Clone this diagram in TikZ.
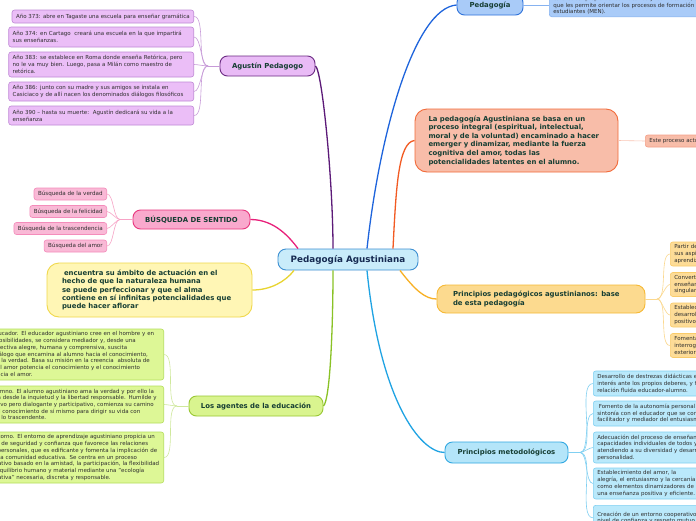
\documentclass[tikz,border=0pt]{standalone}
\usepackage{fontspec}
\setmainfont{DejaVu Sans}
\definecolor{maintxt}{HTML}{163E33}
\definecolor{subtxt}{HTML}{2E2E2E}
\definecolor{centxt}{HTML}{172B52}
\definecolor{cenfill}{HTML}{C9ECFA}
\definecolor{cendraw}{HTML}{3E90D2}
\definecolor{agfill}{HTML}{E9BBF6}
\definecolor{agdraw}{HTML}{6A2A82}
\definecolor{agline}{HTML}{5C1A78}
\definecolor{agsubfill}{HTML}{EBBEF7}
\definecolor{agsubdraw}{HTML}{C08AD6}
\definecolor{agsubline}{HTML}{C79AD8}
\definecolor{pgfill}{HTML}{A9CBF8}
\definecolor{pgdraw}{HTML}{2E72DA}
\definecolor{pgline}{HTML}{1E64DC}
\definecolor{pgsubdraw}{HTML}{86B2F0}
\definecolor{lpfill}{HTML}{F8BDA9}
\definecolor{lpdraw}{HTML}{F26B3A}
\definecolor{lpline}{HTML}{F25A22}
\definecolor{lpsubdraw}{HTML}{F4A088}
\definecolor{lpsubline}{HTML}{F9C5B4}
\definecolor{bsfill}{HTML}{F9A9CD}
\definecolor{bsdraw}{HTML}{E8357D}
\definecolor{bsline}{HTML}{E8207A}
\definecolor{bssubfill}{HTML}{F9B9D6}
\definecolor{bssubdraw}{HTML}{F48CBB}
\definecolor{bssubline}{HTML}{F7A3C6}
\definecolor{yefill}{HTML}{FFF6B5}
\definecolor{yedraw}{HTML}{F0D84C}
\definecolor{yeline}{HTML}{E8D430}
\definecolor{ppfill}{HTML}{FCDA8F}
\definecolor{ppdraw}{HTML}{F6B935}
\definecolor{ppline}{HTML}{F8B024}
\definecolor{ppsubfill}{HTML}{FDDC97}
\definecolor{ppsubdraw}{HTML}{F9CB6A}
\definecolor{ppsubline}{HTML}{FBD88E}
\definecolor{agefill}{HTML}{D9F48F}
\definecolor{agedraw}{HTML}{98C732}
\definecolor{ageline}{HTML}{8AC226}
\definecolor{agesubfill}{HTML}{DDF796}
\definecolor{agesubdraw}{HTML}{B5DE5D}
\definecolor{agesubline}{HTML}{CFE89C}
\definecolor{pmfill}{HTML}{B4E5F9}
\definecolor{pmdraw}{HTML}{2FA7E1}
\definecolor{pmline}{HTML}{1FA3E3}
\definecolor{pmsubfill}{HTML}{BAE9FB}
\definecolor{pmsubdraw}{HTML}{80D0F2}
\tikzset{
  mainbox/.style={draw, line width=0.9pt, rounded corners=7.5pt, font=\fontsize{6.9}{8.6}\selectfont\bfseries, text=maintxt, inner sep=0pt, align=center},
  mainpara/.style={mainbox, align=left, inner ysep=3pt},
  subbox/.style={draw, line width=0.6pt, rounded corners=2.5pt, font=\fontsize{5.5}{6.7}\selectfont, text=subtxt, inner xsep=4pt, inner ysep=2pt, align=left},
  mainline/.style={line width=1.3pt},
  subline/.style={line width=0.6pt},
}
\begin{document}
\begin{tikzpicture}[x=1pt,y=-1pt]
\useasboundingbox (0,0) rectangle (696,520);
\fill[white] (0,0) rectangle (696,520);
\clip (0,0) rectangle (696,520);

% ---------- main nodes ----------
\node[mainbox, fill=cenfill, draw=cendraw, text=centxt, font=\fontsize{8.8}{10}\selectfont\bfseries, minimum width=140pt, minimum height=21pt, rounded corners=8pt] (center) at (348,259.5) {Pedagogía Agustiniana};

\node[mainbox, fill=agfill, draw=agdraw, minimum width=95pt, minimum height=20pt] (agustin) at (267.5,66) {Agustín Pedagogo};

\node[mainbox, fill=pgfill, draw=pgdraw, minimum width=66pt, minimum height=20pt] (pedag) at (490,5) {Pedagogía};

\node[mainpara, fill=lpfill, draw=lpdraw, text width=176pt, inner xsep=13.5pt, minimum height=63pt, rounded corners=12pt] (lapedag) at (516.5,140.5) {La pedagogía Agustiniana se basa en un\\proceso integral (espiritual, intelectual,\\moral y de la voluntad) encaminado a hacer\\emerger y dinamizar, mediante la fuerza\\cognitiva del amor, todas las\\potencialidades latentes en el alumno.};

\node[mainbox, fill=bsfill, draw=bsdraw, minimum width=117pt, minimum height=19pt] (busq) at (191.5,219.5) {BÚSQUEDA DE SENTIDO};

\node[mainpara, fill=yefill, draw=yedraw, text width=175pt, inner xsep=15pt, minimum height=54pt, rounded corners=12pt, font=\fontsize{6.9}{8.4}\selectfont\bfseries] (yellow) at (149.5,290) {\hspace{2pt}encuentra su ámbito de actuación en el\\hecho de que la naturaleza humana\\se puede perfeccionar y que el alma\\contiene en sí infinitas potencialidades que\\puede hacer aflorar};

\node[mainpara, fill=ppfill, draw=ppdraw, text width=176pt, inner xsep=16pt, minimum height=28pt, rounded corners=9pt, font=\fontsize{6.9}{9}\selectfont\bfseries] (pp) at (541,299) {Principios pedagógicos agustinianos: base\\de esta pedagogía};

\node[mainbox, fill=agefill, draw=agedraw, minimum width=134pt, minimum height=20pt] (agentes) at (256,406) {Los agentes de la educación};

\node[mainbox, fill=pmfill, draw=pmdraw, minimum width=123pt, minimum height=21pt] (pm) at (506.5,452.5) {Principios metodológicos};

% ---------- main connectors ----------
\draw[mainline, agline] ([xshift=-15pt]center.north) .. controls (333,180) and (322,70) .. (agustin.east);
\draw[mainline, pgline] ([xshift=19pt]center.north) .. controls (380,130) and (415,8) .. (pedag.west);
\draw[mainline, lpline] ([xshift=45pt]center.north) .. controls (396,190) and (398,142) .. (lapedag.west);
\draw[mainline, bsline] ([xshift=-50pt]center.north) .. controls (290,238) and (275,219.5) .. (busq.east);
\draw[mainline, yeline] ([xshift=-54pt]center.south) .. controls (285,282) and (270,290) .. (yellow.east);
\draw[mainline, ageline] ([xshift=-15pt]center.south) .. controls (333,330) and (330,400) .. (agentes.east);
\draw[mainline, pmline] ([xshift=19pt]center.south) .. controls (380,400) and (420,452.5) .. (pm.west);
\draw[mainline, ppline] ([xshift=52pt]center.south) .. controls (415,290) and (425,299) .. (pp.west);

% ---------- Agustin subs ----------
\node[subbox, fill=agsubfill, draw=agsubdraw, anchor=east, minimum height=13pt] (a1) at (194,16.5) {Año 373: abre en Tagaste una escuela para enseñar gramática};
\node[subbox, fill=agsubfill, draw=agsubdraw, anchor=east, text width=177pt, minimum height=20pt] (a2) at (194,37) {Año 374: en Cartago\ \ creará una escuela en la que impartirá\\sus enseñanzas.};
\node[subbox, fill=agsubfill, draw=agsubdraw, anchor=east, text width=177pt, minimum height=25pt] (a3) at (194,64.5) {Año 383: se establece en Roma donde enseña Retórica, pero\\no le va muy bien. Luego, pasa a Milán como maestro de\\retórica.};
\node[subbox, fill=agsubfill, draw=agsubdraw, anchor=east, text width=177pt, minimum height=19pt] (a4) at (194,91.5) {Año 386: junto con su madre y sus amigos se instala en\\Casiciaco y de allí nacen los denominados diálogos filosóficos};
\node[subbox, fill=agsubfill, draw=agsubdraw, anchor=east, text width=177pt, minimum height=19pt] (a5) at (194,115.5) {Año 390 – hasta su muerte:\ \ Agustín dedicará su vida a la\\enseñanza};
\coordinate (agF) at (208,66);
\draw[subline, agsubline] (agustin.west) -- (agF);
\foreach \n in {a1,a2,a3,a4,a5} \draw[subline, agsubline] (agF) to[out=180,in=0,looseness=0.6] (\n.east);

% ---------- Pedagogia sub ----------
\node[subbox, fill=pgfill, draw=pgsubdraw, anchor=south west, text width=170pt] (pgbox) at (549,17) {La pedagogía, según el Ministerio de Educación Nacional,\\es el saber propio de los maestros y las maestras, ese saber\\que les permite orientar los procesos de formación de los\\estudiantes (MEN).};
\draw[subline, pgsubdraw] (pedag.east) -- (pedag.east -| pgbox.west);

% ---------- La pedagogia sub ----------
\node[subbox, fill=lpfill, draw=lpsubdraw, anchor=west, minimum height=12pt] (este) at (645,141) {Este proceso actúa sobre la persona en su totalidad};
\draw[subline, lpsubline] (lapedag.east) -- (este.west);

% ---------- Busqueda subs ----------
\foreach \n/\y/\t in {b1/194/{Búsqueda de la verdad}, b2/211.5/{Búsqueda de la felicidad}, b3/228.5/{Búsqueda de la trascendencia}, b4/246/{Búsqueda del amor}}
  \node[subbox, fill=bssubfill, draw=bssubdraw, anchor=east, minimum height=12pt, font=\fontsize{5.6}{6.7}\selectfont] (\n) at (107,\y) {\t};
\coordinate (bsF) at (120,219.5);
\draw[subline, bssubline] (busq.west) -- (bsF);
\foreach \n in {b1,b2,b3,b4} \draw[subline, bssubline] (bsF) to[out=180,in=0,looseness=0.6] (\n.east);

% ---------- Principios pedagogicos subs ----------
\node[subbox, fill=ppsubfill, draw=ppsubdraw, anchor=west, text width=130pt, minimum height=24pt] (p1) at (670,254) {Partir de la realidad del alumno,\\sus aspiraciones y necesidades de\\aprendizaje.};
\node[subbox, fill=ppsubfill, draw=ppsubdraw, anchor=west, text width=130pt, minimum height=24pt] (p2) at (670,284.5) {Convertir al alumno en protagonista de la\\enseñanza-aprendizaje, atendiendo a su\\singularidad.};
\node[subbox, fill=ppsubfill, draw=ppsubdraw, anchor=west, text width=130pt, minimum height=24pt] (p3) at (670,315) {Establecer un clima que favorezca el\\desarrollo de la persona, con refuerzo\\positivo.};
\node[subbox, fill=ppsubfill, draw=ppsubdraw, anchor=west, text width=130pt, minimum height=24pt] (p4) at (670,345.5) {Fomentar la reflexión, la\\interrogación y el paso de lo\\exterior a lo interior.};
\coordinate (ppF) at (657,299);
\draw[subline, ppsubline] (pp.east) -- (ppF);
\foreach \n in {p1,p2,p3,p4} \draw[subline, ppsubline] (ppF) to[out=0,in=180,looseness=0.6] (\n.west);

% ---------- Agentes subs ----------
\node[subbox, fill=agesubfill, draw=agesubdraw, anchor=east, text width=175pt, minimum height=51pt] (g1) at (164,354.5) {El educador. El educador agustiniano cree en el hombre y en\\sus posibilidades, se considera mediador y, desde una\\perspectiva alegre, humana y comprensiva, suscita\\un diálogo que encamina al alumno hacia el conocimiento,\\hacia la verdad. Basa su misión en la creencia\ \ absoluta de\\que el amor potencia el conocimiento y el conocimiento\\potencia el amor.};
\node[subbox, fill=agesubfill, draw=agesubdraw, anchor=east, text width=175pt, minimum height=37pt] (g2) at (164,404.5) {El alumno. El alumno agustiniano ama la verdad y por ello la\\busca desde la inquietud y la libertad responsable. Humilde y\\creativo pero dialogante y participativo, comienza su camino\\por el conocimiento de sí mismo para dirigir su vida con\\hacia lo trascendente.};
\node[subbox, fill=agesubfill, draw=agesubdraw, anchor=east, text width=175pt, minimum height=51pt] (g3) at (164,457.5) {El entorno. El entorno de aprendizaje agustiniano propicia un\\clima de seguridad y confianza que favorece las relaciones\\interpersonales, que es edificante y fomenta la implicación de\\toda la comunidad educativa. Se centra en un proceso\\educativo basado en la amistad, la participación, la flexibilidad\\y el equilibrio humano y material mediante una "ecología\\educativa" necesaria, discreta y responsable.};
\coordinate (ageF) at (177,406);
\draw[subline, agesubline] (agentes.west) -- (ageF);
\foreach \n in {g1,g2,g3} \draw[subline, agesubline] (ageF) to[out=180,in=0,looseness=0.6] (\n.east);

% ---------- Metodologicos subs ----------
\node[subbox, fill=pmsubfill, draw=pmsubdraw, anchor=west, text width=160pt, minimum height=25pt] (m1) at (593,383.5) {Desarrollo de destrezas didácticas en el alumnado, de\\interés ante los propios deberes, y fomento de una\\relación fluida educador-alumno.};
\node[subbox, fill=pmsubfill, draw=pmsubdraw, anchor=west, text width=160pt, minimum height=25pt] (m2) at (593,413.5) {\hspace{1.5pt}Fomento de la autonomía personal del alumno, en\\sintonía con el educador que se convierte en\\facilitador y mediador del entusiasmo.};
\node[subbox, fill=pmsubfill, draw=pmsubdraw, anchor=west, text width=160pt, minimum height=31pt] (m3) at (593,447.5) {Adecuación del proceso de enseñanza-aprendizaje a las\\capacidades individuales de todos y cada uno,\\atendiendo a su diversidad y desarrollando su\\personalidad.};
\node[subbox, fill=pmsubfill, draw=pmsubdraw, anchor=west, text width=160pt, minimum height=31pt] (m4) at (593,483.5) {Establecimiento del amor, la\\alegría, el entusiasmo y la cercanía\\como elementos dinamizadores de\\una enseñanza positiva y eficiente.};
\node[subbox, fill=pmsubfill, draw=pmsubdraw, anchor=north west, text width=160pt, minimum height=25pt] (m5) at (593,505) {Creación de un entorno cooperativo a todo\\nivel de confianza y respeto mutuo.};
\coordinate (pmF) at (580,452.5);
\draw[subline, pmsubdraw] (pm.east) -- (pmF);
\foreach \n in {m1,m2,m3,m4,m5} \draw[subline, pmsubdraw] (pmF) to[out=0,in=180,looseness=0.6] (\n.west);
\end{tikzpicture}
\end{document}
